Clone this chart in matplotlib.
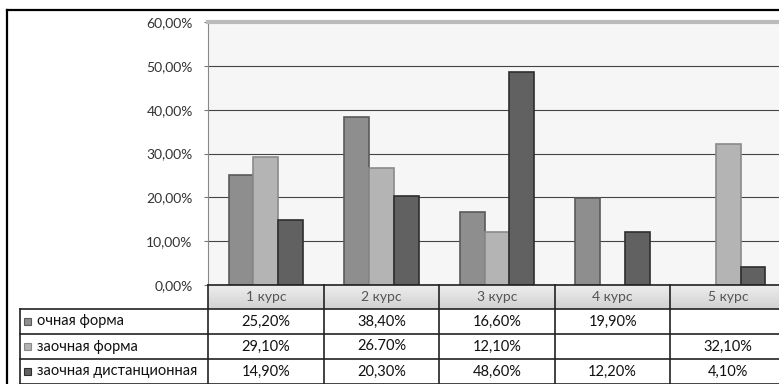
import numpy as np
import matplotlib
matplotlib.use("Agg")
import matplotlib.pyplot as plt
from matplotlib.transforms import blended_transform_factory

plt.rcParams['font.family'] = ['Lato', 'DejaVu Sans']

categories = ["1 курс", "2 курс", "3 курс", "4 курс", "5 курс"]
series_names = ["очная форма", "заочная форма", "заочная дистанционная"]
ochnaya = [25.2, 38.4, 16.6, 19.9, None]
zaochnaya = [29.1, 26.7, 12.1, None, 32.1]
distant = [14.9, 20.3, 48.6, 12.2, 4.1]
table_text = [
    ["25,20%", "38,40%", "16,60%", "19,90%", ""],
    ["29,10%", "26.70%", "12,10%", "", "32,10%"],
    ["14,90%", "20,30%", "48,60%", "12,20%", "4,10%"],
]
yticks = [0, 10, 20, 30, 40, 50, 60]
ytick_labels = ["0,00%", "10,00%", "20,00%", "30,00%", "40,00%", "50,00%", "60,00%"]

colors = ["#8e8e8e", "#b4b4b4", "#616161"]
edges = ["#5a5a5a", "#8a8a8a", "#2e2e2e"]

W, H = 779, 384
fig = plt.figure(figsize=(W / 100, H / 100), dpi=100)


def fy(py):
    return (H - py) / H


def fx(px):
    return px / W


# chart area
ax = fig.add_axes([fx(208), fy(285), fx(786) - fx(208), fy(22) - fy(285)])
ax.set_facecolor("#f6f6f6")
ax.set_xlim(-0.5, 4.5)
ax.set_ylim(0, 60)

w = 0.215
x = np.arange(len(categories))
for k, vals in enumerate([ochnaya, zaochnaya, distant]):
    xs = [x[i] + (k - 1) * w for i in range(len(vals)) if vals[i] is not None]
    hs = [v for v in vals if v is not None]
    ax.bar(xs, hs, width=w, color=colors[k], edgecolor=edges[k], linewidth=1.2, zorder=3)

ax.set_yticks(yticks)
ax.set_yticklabels(ytick_labels, fontsize=10, color="#333333")
ax.tick_params(axis='y', length=3, pad=8, color="#777777")
ax.set_xticks([])
ax.grid(axis='y', color="#444444", linewidth=0.8, zorder=1)
for s in ["right", "bottom"]:
    ax.spines[s].set_visible(False)
ax.spines["left"].set_color("#888888")
ax.spines["top"].set_color("#bbbbbb")
ax.spines["top"].set_linewidth(3)

# outer frame
fig.add_artist(plt.Line2D([fx(7), fx(7)], [0, fy(10)], color="black", lw=1.6))
fig.add_artist(plt.Line2D([fx(7), 1], [fy(10), fy(10)], color="black", lw=1.6))

# data table
tr = blended_transform_factory(ax.transData, fig.transFigure)
row_y = [285, 309, 334, 359, 384]

# header row background
ax_bg = fig.add_axes([fx(208), fy(309), fx(786) - fx(208), fy(285) - fy(309)])
grad = np.linspace(0.93, 0.82, 50).reshape(-1, 1)
ax_bg.imshow(grad, aspect='auto', cmap='gray', vmin=0, vmax=1, extent=[0, 1, 0, 1])
ax_bg.set_axis_off()

for i, cat in enumerate(categories):
    fig.text(x[i], fy((row_y[0] + row_y[1]) / 2), cat, transform=tr, fontsize=10,
             color="#555555", ha='center', va='center')

for r in range(3):
    yc = fy((row_y[r + 1] + row_y[r + 2]) / 2)
    for i in range(len(categories)):
        fig.text(x[i], yc, table_text[r][i], transform=tr, fontsize=10.5,
                 color="#111111", ha='center', va='center')
    fig.text(fx(37), yc, series_names[r], fontsize=10.5, color="#111111",
             ha='left', va='center')
    fig.add_artist(plt.Rectangle((fx(24), yc - 3.5 / H), 7 / W, 7 / H,
                                 facecolor=colors[r], edgecolor=edges[r], lw=0.8))

# table lines
for j, py in enumerate(row_y):
    x0 = fx(20) if j >= 1 else fx(208)
    fig.add_artist(plt.Line2D([x0, 1], [fy(py), fy(py)], color="#222222", lw=1.2))
for i in range(len(categories) + 1):
    fig.add_artist(plt.Line2D([i - 0.5, i - 0.5], [fy(384), fy(285)],
                              color="#222222", lw=1.2, transform=tr))
fig.add_artist(plt.Line2D([fx(20), fx(20)], [fy(384), fy(309)], color="#222222", lw=1.2))

fig.savefig("out.png", dpi=100)
